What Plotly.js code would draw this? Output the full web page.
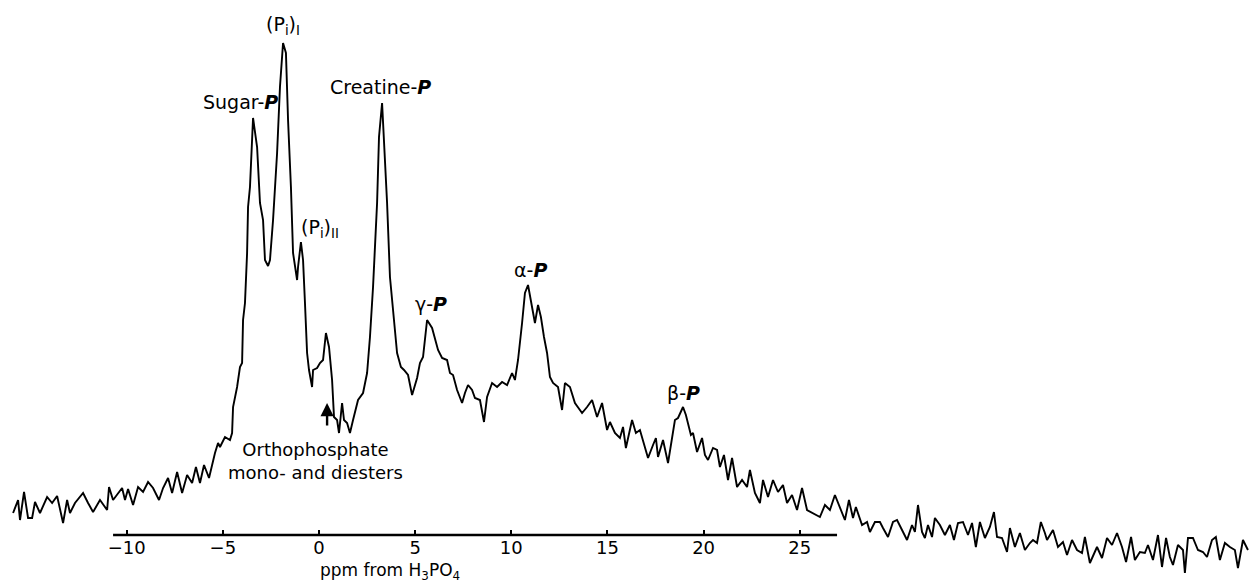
<!DOCTYPE html>
<html>
<head>
<meta charset="utf-8">
<script src="https://cdn.plot.ly/plotly-3.0.1.min.js"></script>
<style>html,body{margin:0;padding:0;background:#fff;}#chart{width:1252px;height:583px;}</style>
</head>
<body>
<div id="chart"></div>
<script>
// Chemical shift (ppm from H3PO4) and signal intensity (arbitrary units)
const ppmLowField = [-15.91,-15.65,-15.55,-15.34,-15.13,-14.92,-14.77,-14.51,-14.14,-13.88,-13.62,-13.31,-13.10,-12.95,-12.69,-12.27,-12.01,-11.75,-11.39,-11.02,-10.92,-10.71,-10.24,-10.09,-9.93,-9.67,-9.41,-9.15,-8.89,-8.63,-8.32,-8.11,-7.85,-7.64,-7.38,-7.12,-6.86,-6.60,-6.40,-6.19,-5.98,-5.72,-5.41,-5.25,-5.15,-4.89,-4.63];
const intLowField = [22,35,15,43,17,17,33,22,38,32,39,12,35,22,32,42,32,23,35,25,48,35,47,35,46,30,48,43,53,47,35,47,57,42,63,42,60,52,68,52,70,57,82,92,88,98,95];

const ppmPiPCr = [-4.52,-4.47,-4.26,-4.11,-4.00,-3.95,-3.85,-3.74,-3.69,-3.59,-3.43,-3.22,-3.17,-3.07,-2.91,-2.81,-2.65,-2.55,-2.39,-2.18,-2.03,-1.87,-1.72,-1.61,-1.46,-1.35,-1.14,-1.09,-0.94,-0.83,-0.73,-0.62,-0.52,-0.36,-0.31,-0.10,0.05,0.21,0.36,0.52,0.68,0.78,0.94,1.04,1.20,1.30,1.46,1.61,1.77,2.03,2.29,2.50,2.65,2.81,3.02,3.12,3.28,3.38,3.54,3.69,3.85,4.06,4.26,4.42,4.63,4.84,5.10];
const intPiPCr = [102,128,148,168,172,215,232,282,328,348,417,388,368,332,315,275,269,275,315,382,448,492,482,415,348,282,255,268,293,275,232,182,165,148,165,167,172,175,202,188,155,118,115,102,132,115,112,102,115,135,142,162,198,248,332,398,432,398,332,258,225,182,168,165,160,140,157];

const ppmGammaAlpha = [5.25,5.41,5.51,5.62,5.88,6.03,6.19,6.40,6.66,6.81,6.97,7.18,7.44,7.59,7.75,7.96,8.11,8.37,8.58,8.74,9.00,9.26,9.52,9.78,10.04,10.19,10.35,10.56,10.71,10.87,11.02,11.23,11.39,11.54,11.70,11.86,12.01,12.17,12.43,12.64,12.79,13.05,13.31,13.47,13.68,13.94,14.20,14.46,14.72,14.98];
const intGammaAlpha = [172,178,198,215,207,197,185,177,175,162,160,145,132,142,150,145,137,135,113,138,152,148,153,150,162,155,175,212,242,250,235,212,230,218,198,182,158,152,148,125,152,148,132,128,122,128,135,118,132,105];

const ppmBeta = [15.13,15.39,15.65,15.81,15.96,16.28,16.48,16.69,16.85,17.11,17.37,17.52,17.63,17.89,18.15,18.36,18.51,18.67,18.93,19.08,19.19,19.34,19.45,19.66,19.92,20.07,20.23,20.49,20.70,20.85,21.06,21.27,21.48,21.74,22.00,22.26,22.41,22.67,22.93,23.09,23.35,23.61,23.87,24.13,24.34,24.60,24.86,25.12,25.38,25.69,26.05,26.31,26.57,26.83,27.09];
const intBeta = [113,102,97,108,87,115,102,105,95,77,90,97,78,95,72,95,115,117,128,120,112,100,102,83,97,80,75,87,85,68,80,55,77,48,55,48,65,42,32,55,38,55,43,50,32,40,25,47,25,22,18,30,25,40,27];

const ppmHighField1 = [27.35,27.56,27.77,27.92,28.24,28.50,28.65,28.91,29.17,29.33,29.59,29.85,30.06,30.32,30.58,30.84,30.99,31.15,31.36,31.51,31.67,31.88,32.03,32.29,32.55,32.81,33.02,33.23,33.49,33.75,33.96,34.16,34.37,34.63,34.89,35.10,35.26,35.52,35.78,35.93,36.19,36.45,36.71,36.97,37.13,37.34,37.54,37.75];
const intHighField1 = [15,35,17,28,10,13,3,13,13,7,-2,13,15,5,-5,10,3,30,3,-3,10,-2,17,10,0,10,-5,12,13,0,12,-12,13,-3,8,23,-2,-3,-17,7,-12,2,-15,-8,-5,-8,13,2];

const ppmHighField2 = [37.86,38.17,38.43,38.69,38.90,39.16,39.42,39.68,39.83,40.09,40.46,40.72,40.98,41.24,41.50,41.76,41.97,42.23,42.43,42.69,42.95,43.11,43.37,43.63,43.84,44.05,44.25,44.41,44.67,44.93,45.03,45.19,45.45,45.71,45.97,46.18,46.44,46.64,46.85,47.11,47.37,47.63,47.79,48.05,48.31];
const intHighField2 = [-5,5,-12,-7,-20,-5,-15,-18,-2,-28,-12,-23,-3,-10,2,-12,-27,-2,-25,-17,-18,-10,-25,0,-32,-3,-22,-30,-10,-15,-38,-3,-3,-15,-17,-22,-5,-2,-25,-8,-12,-15,-33,-5,-15];

const tickValues = [-10,-5,0,5,10,15,20,25];
const tickLabels = ['\u221210','\u22125','0','5','10','15','20','25'];

const ppm = [].concat(ppmLowField, ppmPiPCr, ppmGammaAlpha, ppmBeta, ppmHighField1, ppmHighField2);
const intensity = [].concat(intLowField, intPiPCr, intGammaAlpha, intBeta, intHighField1, intHighField2);

const FONT = 'DejaVu Sans, Liberation Sans, Arial, sans-serif';
const lbl = (text, x, y, xanchor, size) => ({
  text, x, y, xref: 'x', yref: 'y', showarrow: false,
  xanchor: xanchor || 'center', yanchor: 'middle', align: 'center',
  font: {family: FONT, size: size || 19, color: '#000'}
});

const trace = {
  x: ppm, y: intensity, type: 'scatter', mode: 'lines',
  line: {color: '#000', width: 1.9}, hoverinfo: 'skip'
};

const layout = {
  width: 1252, height: 583, autosize: false,
  margin: {l: 0, r: 0, t: 0, b: 0, pad: 0},
  paper_bgcolor: '#fff', plot_bgcolor: '#fff',
  showlegend: false,
  xaxis: {
    range: [-16.59, 48.52], anchor: 'free', position: 48/583,
    showline: false, showgrid: false, zeroline: false,
    tickmode: 'array', tickvals: tickValues, ticktext: tickLabels,
    ticks: 'inside', ticklen: 5, tickwidth: 2, tickcolor: '#000',
    tickfont: {family: FONT, size: 18, color: '#000'}
  },
  yaxis: {range: [-48, 535], visible: false, showgrid: false, zeroline: false},
  shapes: [
    {type: 'line', xref: 'x', yref: 'y', x0: -10.71, x1: 26.94, y0: 0, y1: 0,
     line: {color: '#000', width: 2.5}}
  ],
  annotations: [
    lbl('(P<sub>i</sub>)<sub>I</sub>', -1.87, 510),
    lbl('Sugar-<b><i>P</i></b>', -4.06, 433),
    lbl('Creatine-<b><i>P</i></b>', 0.47, 448, 'left'),
    lbl('(P<sub>i</sub>)<sub>II</sub>', 0.05, 307),
    lbl('\u03b3-<b><i>P</i></b>', 5.82, 231),
    lbl('\u03b1-<b><i>P</i></b>', 11.02, 265),
    lbl('\u03b2-<b><i>P</i></b>', 18.93, 142),
    lbl('Orthophosphate<br>mono- and diesters', -0.16, 74, 'center', 18),
    lbl('ppm from H<sub>3</sub>PO<sub>4</sub>', 3.69, -36, 'center', 17),
    {x: 0.42, y: 132, ax: 0.42, ay: 108, xref: 'x', yref: 'y', axref: 'x', ayref: 'y',
     showarrow: true, arrowhead: 2, arrowsize: 1.1, arrowwidth: 2.4, arrowcolor: '#000', text: ''}
  ]
};

Plotly.newPlot('chart', [trace], layout, {staticPlot: true, displayModeBar: false});
</script>
</body>
</html>
